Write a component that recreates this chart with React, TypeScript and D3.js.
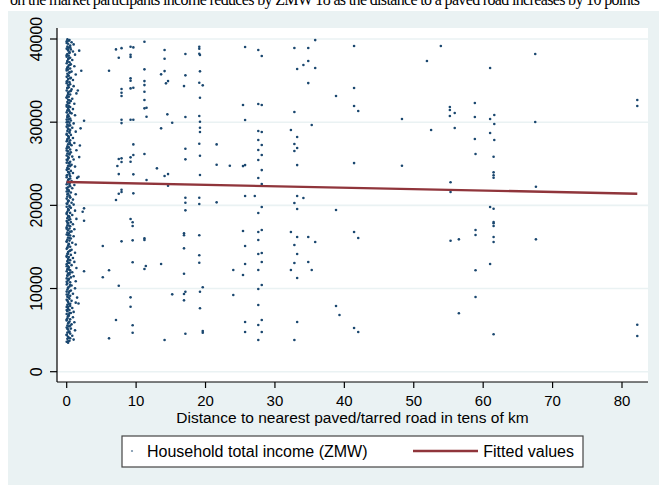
import React from "react";
import * as d3 from "d3";

// Dense column of households right next to a paved road (distance ~0-2)
const nearRoad: [number, number][] = [
  [0.1,39950],[0.4,39880],[0.0,39720],[0.7,39610],[0.2,39430],[1.0,39350],[0.5,39220],[0.1,39080],[0.3,38960],
  [0.0,38840],[0.6,38750],[0.2,38610],[0.9,38490],[0.4,38330],[0.1,38200],[1.2,38120],[0.3,37990],[0.0,37860],
  [0.5,37740],[0.2,37600],[0.8,37480],[0.1,37350],[0.4,37210],[0.0,37080],[0.6,36970],[0.3,36840],[1.1,36720],
  [0.1,36590],[0.5,36450],[0.2,36320],[0.0,36210],[0.7,36080],[0.4,35960],[0.1,35820],[1.3,35730],[0.3,35590],
  [0.0,35450],[0.6,35340],[0.2,35200],[0.9,35070],[0.1,34950],[0.4,34810],[0.0,34690],[0.5,34560],[0.2,34420],
  [1.0,34330],[0.3,34190],[0.1,34070],[0.7,33940],[0.0,33810],[0.4,33690],[0.2,33550],[1.4,33460],[0.5,33320],
  [0.1,33200],[0.3,33060],[0.0,32940],[0.8,32810],[0.2,32690],[0.6,32550],[0.1,32430],[0.4,32300],[1.1,32210],
  [0.0,32070],[0.3,31950],[0.5,31820],[0.2,31690],[0.9,31570],[0.1,31440],[0.4,31300],[0.0,31180],[0.7,31060],
  [0.2,30930],[1.2,30840],[0.3,30700],[0.1,30580],[0.5,30450],[0.0,30310],[0.6,30200],[0.2,30070],[0.4,29940],
  [1.0,29850],[0.1,29710],[0.3,29580],[0.0,29460],[0.8,29330],[0.2,29200],[0.5,29070],[0.1,28950],[1.3,28860],
  [0.4,28720],[0.0,28590],[0.6,28470],[0.2,28340],[0.3,28210],[0.9,28090],[0.1,27960],[0.5,27830],[0.0,27710],
  [0.4,27580],[1.1,27490],[0.2,27350],[0.7,27230],[0.1,27100],[0.3,26970],[0.0,26850],[0.5,26720],[1.4,26630],
  [0.2,26490],[0.6,26370],[0.1,26240],[0.4,26110],[0.0,25990],[0.8,25860],[0.3,25730],[0.2,25610],[1.0,25520],
  [0.1,25380],[0.5,25250],[0.0,25130],[0.4,25000],[0.7,24870],[0.2,24750],[1.2,24660],[0.1,24520],[0.3,24390],
  [0.0,24270],[0.6,24140],[0.2,24010],[0.9,23890],[0.4,23760],[0.1,23640],[0.5,23510],[0.0,23380],[1.5,23300],
  [0.3,23160],[0.2,23030],[0.7,22910],[0.1,22780],[0.4,22650],[0.0,22530],[1.1,22440],[0.5,22300],[0.2,22170],
  [0.8,22050],[0.1,21920],[0.3,21800],[0.0,21670],[0.6,21540],[0.2,21420],[1.3,21330],[0.4,21190],[0.1,21060],
  [0.5,20940],[0.0,20810],[0.9,20690],[0.3,20560],[0.2,20430],[0.7,20310],[0.1,20180],[1.0,20090],[0.4,19950],
  [0.0,19830],[0.6,19700],[0.2,19570],[0.3,19450],[1.2,19360],[0.1,19220],[0.5,19090],[0.0,18970],[0.8,18840],
  [0.2,18720],[0.4,18590],[0.1,18460],[1.4,18370],[0.3,18230],[0.0,18110],[0.6,17980],[0.2,17850],[0.9,17730],
  [0.1,17600],[0.5,17480],[0.0,17350],[0.4,17220],[1.1,17130],[0.2,17000],[0.7,16870],[0.1,16740],[0.3,16620],
  [0.0,16490],[0.5,16370],[1.0,16280],[0.2,16140],[0.6,16010],[0.1,15890],[0.4,15760],[0.0,15630],[0.8,15510],
  [0.3,15380],[1.3,15290],[0.2,15150],[0.5,15030],[0.1,14900],[0.0,14770],[0.7,14650],[0.4,14520],[0.2,14400],
  [1.2,14310],[0.1,14170],[0.6,14040],[0.0,13920],[0.3,13790],[0.9,13670],[0.2,13540],[0.5,13410],[0.1,13290],
  [1.1,13200],[0.4,13060],[0.0,12930],[0.7,12810],[0.2,12680],[0.3,12560],[1.4,12470],[0.1,12330],[0.5,12200],
  [0.0,12080],[0.8,11950],[0.2,11820],[0.4,11700],[0.1,11570],[1.0,11480],[0.6,11340],[0.0,11220],[0.3,11090],
  [0.2,10960],[1.3,10870],[0.5,10740],[0.1,10610],[0.0,10490],[0.7,10360],[0.4,10240],[0.2,10110],[1.2,10020],
  [0.1,9880],[0.6,9750],[0.0,9630],[0.3,9500],[0.9,9380],[0.2,9250],[0.5,9120],[0.1,9000],[1.5,8910],
  [0.4,8770],[0.0,8650],[0.7,8520],[0.2,8390],[1.3,8300],[0.3,8160],[0.1,8040],[0.5,7910],[0.0,7790],
  [0.8,7660],[0.2,7530],[0.4,7410],[0.1,7280],[1.0,7190],[0.6,7050],[0.0,6930],[0.3,6800],[0.2,6670],
  [0.9,6550],[0.1,6420],[0.5,6300],[0.0,6170],[0.4,6040],[1.1,5950],[0.2,5810],[0.7,5690],[0.1,5560],
  [0.3,5430],[0.0,5310],[0.6,5180],[0.2,5060],[1.2,4970],[0.4,4830],[0.1,4700],[0.5,4580],[0.0,4450],
  [0.8,4330],[0.2,4200],[0.3,4070],[0.1,3950],[1.0,3860],[0.4,3720],[0.0,3600],[0.2,3480],
  [0.3,39800],[0.0,39520],[0.5,39010],[0.2,38700],[0.4,38420],[0.0,38060],[0.3,37670],[0.1,37290],[0.5,36900],
  [0.2,36620],[0.0,36380],[0.4,36010],[0.2,35650],[0.5,35270],[0.0,34880],[0.3,34500],[0.1,34130],[0.6,33750],
  [0.2,33380],[0.0,33000],[0.4,32620],[0.2,32250],[0.0,31870],[0.3,31490],[0.5,31120],[0.1,30740],[0.3,30360],
  [0.0,29990],[0.5,29610],[0.2,29240],[0.4,28860],[0.0,28480],[0.3,28110],[0.1,27730],[0.5,27360],[0.2,26980],
  [0.0,26600],[0.4,26230],[0.2,25850],[0.0,25470],[0.3,25100],[0.5,24720],[0.1,24340],[0.3,23970],[0.0,23590],
  [0.5,23220],[0.2,22840],[0.4,22460],[0.0,22090],[0.3,21710],[0.1,21330],[0.5,20960],[0.2,20580],[0.0,20210],
  [0.4,19830],[0.2,19450],[0.0,19080],[0.3,18700],[0.5,18320],[0.1,17950],[0.3,17570],[0.0,17200],[0.5,16820],
  [0.2,16440],[0.4,16070],[0.0,15690],[0.3,15310],[0.1,14940],[0.5,14560],[0.2,14180],[0.0,13810],[0.4,13430],
  [0.2,13060],[0.0,12680],[0.3,12300],[0.5,11930],[0.1,11550],[0.3,11170],[0.0,10800],[0.5,10420],[0.2,10050],
  [0.4,9670],[0.0,9290],[0.3,8920],[0.1,8540],[0.5,8160],[0.2,7790],[0.0,7410],[0.4,7040],[0.2,6660],
  [0.0,6280],[0.3,5910],[0.5,5530],[0.1,5150],[0.3,4780],[0.0,4400],[0.5,4020],[0.2,3640],
  [2.1,36180],[2.5,30170],[2.0,29260],[1.9,27200],[1.8,25800],[1.7,23440],[2.3,19230],
  [2.5,19640],[2.5,18150],[2.5,12070],[1.7,8200],[1.6,33800],[1.8,38600]
];

// Households farther from a paved road
const farFromRoad: [number, number][] = [
  [5.2,15110],[5.2,11350],[6.1,12190],[6.1,4010],[7.1,6210],[7.5,10340],[7.9,15670],
  [6.1,36180],[7.1,38750],[7.5,37740],[7.9,38900],[7.9,33980],[7.9,33540],[7.9,33140],[7.9,30290],[7.9,29890],
  [7.5,25570],[7.9,25650],[7.9,25210],[7.3,24730],[7.5,23760],[7.5,21400],[7.9,21880],[7.9,21600],[7.1,20640],
  [9.2,39070],[9.2,38100],[9.2,37830],[9.6,38990],[9.2,35270],[9.2,34980],[9.2,34060],[9.6,34140],[9.2,30290],
  [9.6,30290],[9.6,27330],[9.2,25770],[9.6,26050],[9.2,25240],[9.6,23730],[9.6,21440],[9.2,18350],
  [9.5,17960],[9.5,17510],[9.5,15790],[9.5,13150],[9.2,8940],[9.2,7810],[9.5,5580],[9.5,4690],
  [11.2,39670],[11.2,36350],[11.2,34940],[11.2,34460],[11.2,33660],[11.2,32660],[11.2,31660],[11.5,31730],
  [11.5,30650],[11.2,26170],[11.5,23040],[11.2,16030],[11.2,15830],[11.2,12340],[11.4,12700],
  [13.0,24450],[13.6,29260],[13.6,35750],[13.6,12950],
  [14.1,38670],[14.1,37620],[14.1,36140],[14.3,34670],[14.6,34940],[14.5,30940],[14.1,23520],[14.6,23760],
  [14.6,22350],[14.1,3810],[15.2,29930],[15.2,9300],
  [17.1,38190],[17.1,35630],[16.9,34340],[17.1,30620],[17.1,26800],[17.1,25530],[17.1,20920],[17.1,20310],
  [17.1,19400],[16.9,16640],[16.9,16400],[16.9,14830],[16.9,11780],[16.9,9340],[17.1,9620],[16.9,8580],[17.1,4570],
  [19.1,39070],[19.1,38830],[19.1,38230],[19.2,38070],[19.2,36110],[19.1,34740],[19.6,34430],[19.2,32930],
  [19.1,30740],[19.2,30050],[19.2,29330],[19.2,28810],[19.1,27410],[19.2,25960],[19.2,23640],[19.1,20920],
  [19.1,20160],[19.1,16400],[19.1,14000],[19.1,13100],[19.6,10150],[19.2,9620],[19.2,7620],[19.6,4890],[19.6,4690],
  [21.6,27330],[21.6,24880],[23.5,24760],[21.6,20360],[24.0,12220],[24.0,9220],
  [25.7,39030],[25.4,32060],[25.7,30260],[25.7,24840],[25.4,24720],[25.7,21120],[25.4,16910],[25.7,15110],
  [25.7,12950],[25.4,11620],[25.7,5970],[25.7,4770],
  [27.6,38670],[28.1,37950],[27.6,32180],[28.1,32060],[27.6,28930],[28.1,28810],[27.6,27850],[28.1,27250],
  [27.6,26650],[28.1,26050],[27.6,25450],[28.1,24240],[27.6,23280],[28.1,22560],[27.1,21120],[28.1,19800],
  [27.6,19080],[28.1,17030],[27.6,16790],[27.6,15830],[28.1,14270],[27.6,14150],[28.1,13190],[27.6,12220],
  [28.1,10420],[27.6,9940],[27.6,8020],[28.1,6210],[27.6,5610],[28.1,4770],[27.6,3810],
  [32.8,38910],[33.2,36390],[32.8,31220],[32.3,29060],[33.2,28210],[32.8,27370],[33.2,26890],[32.8,26530],
  [33.2,24840],[33.2,21120],[32.8,20280],[33.2,19560],[32.3,16790],[33.2,16190],[32.8,15230],[33.2,14150],
  [32.8,13070],[32.3,12220],[33.2,11260],[33.2,5970],[32.8,3810],
  [35.8,39870],[34.8,38910],[34.8,37350],[34.1,36870],[35.8,36510],[34.8,34700],[35.3,29660],[34.1,20880],
  [34.8,16190],[35.8,15590],[34.8,13190],[35.3,12220],
  [38.8,33140],[38.8,19440],[38.8,7900],[39.3,6820],
  [41.4,39150],[41.4,34100],[41.4,31940],[42.0,31340],[41.4,25080],[41.4,16790],[42.0,16070],[41.4,5250],[42.0,4770],
  [48.3,24760],[48.3,30380],[51.9,37350],[52.5,29060],[53.9,39150],
  [55.2,31820],[55.2,31460],[55.9,31100],[55.2,30740],[55.9,29300],[55.3,22770],[55.3,21600],[55.3,15750],
  [56.5,15910],[56.5,7020],
  [58.8,32300],[58.8,30620],[58.8,27970],[58.9,26170],[58.9,17030],[58.9,16430],[58.9,12190],[58.9,8980],
  [61.0,36510],[61.6,30860],[61.0,30380],[61.6,29780],[61.0,28690],[61.6,27850],[61.5,25840],[61.5,23970],
  [61.5,23610],[61.5,23320],[61.0,19800],[61.5,19590],[61.5,17990],[61.5,17840],[61.5,17510],[61.5,16190],
  [61.5,15590],[61.0,12950],[61.5,4500],
  [67.5,38190],[67.5,30020],[67.6,22240],[67.6,15910],
  [82.2,32660],[82.2,31940],[82.2,5650],[82.2,4290]
];

// Fitted values (linear fit endpoints)
const fitX = [0, 82.2];
const fitY = [22800, 21400];

const xTicks = [0, 10, 20, 30, 40, 50, 60, 70, 80];
const yTicks = [0, 10000, 20000, 30000, 40000];

const xTitle = "Distance to nearest paved/tarred road in tens of km";
const legendLabels = ["Household total income (ZMW)", "Fitted values"];
const topText = "on the market participants income reduces by ZMW 18 as the distance to a paved road increases by 10 points";

const NAVY = "#1a476f";
const MAROON = "#90353b";
const BG = "#eaf2f3";
const FONT = "'Liberation Sans', Arial, Helvetica, sans-serif";

export default function App() {
  const W = 659, H = 485;
  const left = 57, right = 648, top = 28, bottom = 382;
  const x = d3.scaleLinear().domain([0, 80]).range([66.7, 622]);
  const y = d3.scaleLinear().domain([0, 40000]).range([371.7, 39]);
  const fitData = fitX.map((v, i) => [v, fitY[i]] as [number, number]);
  const line = d3.line<[number, number]>().x(d => x(d[0])).y(d => y(d[1]));
  const points = [...nearRoad, ...farFromRoad];

  return (
    <svg width={W} height={H} style={{ position: "absolute", left: 0, top: 0, display: "block" }}>
      <rect x={0} y={0} width={W} height={H} fill="#fff" />
      <text x={10} y={5} textLength={630} lengthAdjust="spacing" fontFamily="'Liberation Serif', 'Times New Roman', serif" fontSize={16} fill="#000">{topText}</text>
      <rect x={8} y={11} width={W - 8} height={H - 11} fill={BG} />
      <rect x={left} y={top} width={right - left} height={bottom - top} fill="#fff" />
      {yTicks.map(t => (
        <line key={"g" + t} x1={left} x2={right} y1={y(t)} y2={y(t)} stroke={BG} strokeWidth={1.6} />
      ))}
      <g fill={NAVY}>
        {points.map((p, i) => (
          <circle key={i} cx={x(p[0])} cy={y(p[1])} r={1.3} />
        ))}
      </g>
      <path d={line(fitData) || ""} fill="none" stroke={MAROON} strokeWidth={2.4} />
      {/* Y axis */}
      <line x1={left} x2={left} y1={top} y2={bottom} stroke="#000" strokeWidth={1.2} />
      {yTicks.map(t => (
        <g key={"yt" + t}>
          <line x1={left - 7} x2={left} y1={y(t)} y2={y(t)} stroke="#000" strokeWidth={1.2} />
          <text transform={`translate(42,${y(t)}) rotate(-90)`} textAnchor="middle" fontFamily={FONT} fontSize={16} fill="#000">{t}</text>
        </g>
      ))}
      {/* X axis */}
      <line x1={left} x2={right} y1={bottom} y2={bottom} stroke="#000" strokeWidth={1.2} />
      {xTicks.map(t => (
        <g key={"xt" + t}>
          <line x1={x(t)} x2={x(t)} y1={bottom} y2={bottom + 6} stroke="#000" strokeWidth={1.2} />
          <text x={x(t)} y={406} textAnchor="middle" fontFamily={FONT} fontSize={15} fill="#000">{t}</text>
        </g>
      ))}
      <text x={(left + right) / 2} y={423} textAnchor="middle" fontFamily={FONT} fontSize={15.5} fill="#000">{xTitle}</text>
      {/* Legend */}
      <rect x={122} y={436} width={461} height={31} fill="#fff" stroke="#444" strokeWidth={1.2} />
      <circle cx={132} cy={451} r={1.1} fill={NAVY} opacity={0.6} />
      <text x={147} y={457} fontFamily={FONT} fontSize={16} fill="#000">{legendLabels[0]}</text>
      <line x1={413} x2={478} y1={451} y2={451} stroke={MAROON} strokeWidth={2.4} />
      <text x={574} y={457} textAnchor="end" fontFamily={FONT} fontSize={16} fill="#000">{legendLabels[1]}</text>
    </svg>
  );
}
